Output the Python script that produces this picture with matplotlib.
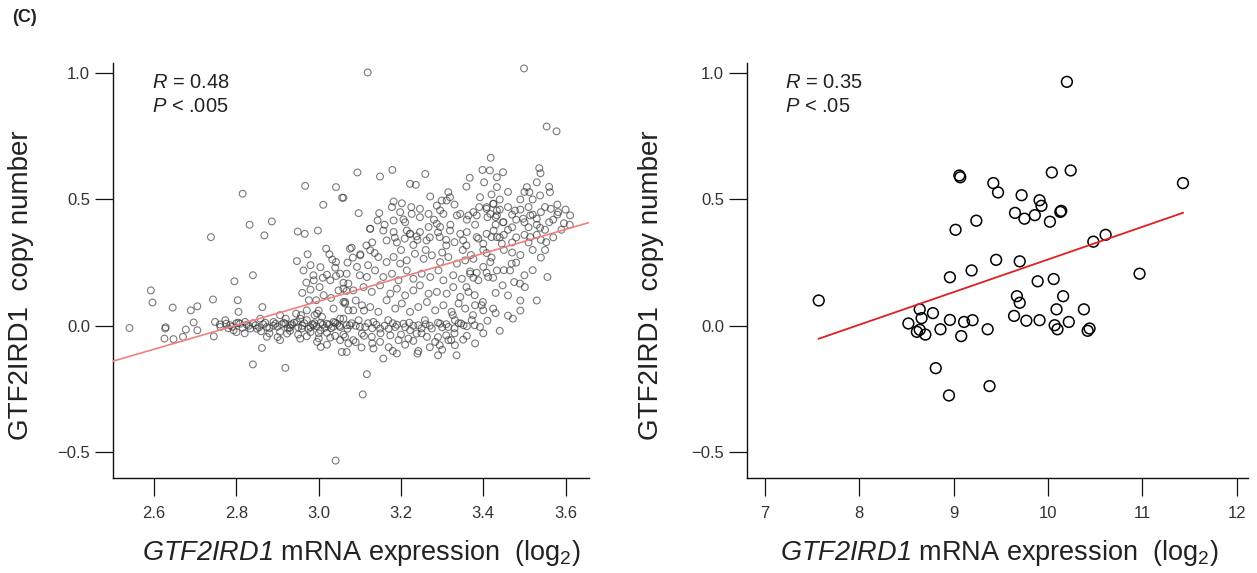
import numpy as np
import matplotlib
matplotlib.use("Agg")
import matplotlib.pyplot as plt

plt.rcParams["font.family"] = ["Liberation Sans", "DejaVu Sans"]
plt.rcParams["mathtext.fontset"] = "custom"
plt.rcParams["mathtext.rm"] = "Liberation Sans"
plt.rcParams["mathtext.it"] = "Liberation Sans:italic"
plt.rcParams["mathtext.sf"] = "Liberation Sans:italic"   # italic gene name incl. digits

# ======================
# DATA
# ======================
# left panel: (mRNA expression log2, copy number)
left_sparse = [
    (2.815, 0.523), (2.832, 0.40), (2.886, 0.413), (2.868, 0.358), (2.738, 0.351),
    (2.967, 0.554), (3.042, 0.549), (3.06, 0.507), (3.011, 0.479), (2.949, 0.373),
    (2.966, 0.364), (2.998, 0.377),
    (3.119, 1.003), (3.499, 1.019), (3.554, 0.789), (3.578, 0.77), (3.418, 0.665),
    (3.094, 0.607), (3.149, 0.591), (3.179, 0.617), (3.259, 0.601), (3.222, 0.562),
    (3.236, 0.558), (3.359, 0.551), (3.367, 0.586), (3.398, 0.617), (3.416, 0.615),
    (3.448, 0.608), (3.433, 0.588), (3.402, 0.568), (3.433, 0.549), (3.536, 0.624),
    (3.539, 0.604), (3.53, 0.568), (3.506, 0.549), (3.512, 0.529), (3.538, 0.516),
    (3.562, 0.529), (3.271, 0.512), (3.315, 0.529), (3.319, 0.509), (3.299, 0.496),
    (3.392, 0.509), (3.057, 0.507), (3.097, 0.446), (3.147, 0.446), (3.143, 0.417),
    (3.125, 0.384),
    (3.477, 0.456), (3.497, 0.424), (3.514, 0.437), (3.53, 0.424), (3.538, 0.388),
    (3.564, 0.463), (3.582, 0.45), (3.611, 0.437), (3.596, 0.406), (3.448, 0.41),
    (3.424, 0.483), (3.408, 0.463), (3.433, 0.456),
    (3.107, -0.272), (3.041, -0.534),
]

left_upper = [
    (3.182, 0.492), (3.202, 0.485), (3.178, 0.47), (3.198, 0.45), (3.225, 0.47),
    (3.246, 0.463), (3.182, 0.417), (3.206, 0.421), (3.226, 0.443), (3.246, 0.43),
    (3.267, 0.443), (3.287, 0.476), (3.295, 0.457), (3.303, 0.443), (3.311, 0.496),
    (3.336, 0.437), (3.344, 0.443), (3.364, 0.437), (3.376, 0.45), (3.384, 0.437),
    (3.408, 0.47), (3.417, 0.443), (3.425, 0.483), (3.433, 0.437), (3.449, 0.41),
    (3.125, 0.384), (3.157, 0.377), (3.182, 0.371), (3.214, 0.377), (3.222, 0.364),
    (3.246, 0.371), (3.267, 0.391), (3.287, 0.404), (3.295, 0.391), (3.319, 0.377),
    (3.344, 0.364), (3.36, 0.371), (3.384, 0.351), (3.408, 0.364), (3.425, 0.377),
    (3.433, 0.351),
    (3.08, 0.309), (3.116, 0.318), (3.136, 0.288), (3.101, 0.283), (3.083, 0.27),
    (3.165, 0.338), (3.185, 0.349), (3.209, 0.345), (3.222, 0.364), (3.238, 0.354),
    (3.262, 0.338), (3.294, 0.351), (3.31, 0.318), (3.33, 0.331), (3.351, 0.338),
    (3.359, 0.318), (3.388, 0.345), (3.4, 0.325), (3.42, 0.351), (3.408, 0.288),
    (3.445, 0.325), (3.469, 0.246), (3.465, 0.219), (3.475, 0.173), (3.489, 0.167),
    (3.501, 0.153), (3.514, 0.351), (3.553, 0.331), (3.556, 0.193), (3.472, 0.028),
    (3.408, 0.21), (3.424, 0.19), (3.433, 0.219), (3.447, 0.16), (3.368, 0.215),
    (3.376, 0.19), (3.384, 0.21), (3.359, 0.153), (3.379, 0.121), (3.399, 0.094),
    (3.424, 0.068), (3.396, 0.081),
    (3.20, 0.30), (3.23, 0.32), (3.26, 0.30), (3.28, 0.42), (3.30, 0.29),
    (3.32, 0.40), (3.33, 0.48), (3.35, 0.30), (3.36, 0.42), (3.37, 0.28),
    (3.38, 0.40), (3.39, 0.47), (3.40, 0.30), (3.41, 0.43), (3.42, 0.27),
    (3.43, 0.40), (3.44, 0.46), (3.45, 0.30), (3.46, 0.38), (3.47, 0.33),
    (3.48, 0.42), (3.49, 0.28), (3.50, 0.36), (3.51, 0.47), (3.52, 0.30),
    (3.53, 0.40), (3.54, 0.45), (3.55, 0.38), (3.57, 0.42), (3.58, 0.48),
    (3.45, 0.22), (3.48, 0.25), (3.50, 0.20), (3.52, 0.22), (3.54, 0.27),
    (3.46, 0.12), (3.49, 0.10), (3.43, 0.13), (3.41, 0.02), (3.43, 0.05),
    (3.44, -0.02), (3.46, 0.04), (3.49, 0.06), (3.53, 0.10),
    (3.13, 0.33), (3.16, 0.40), (3.19, 0.33), (3.21, 0.41), (3.24, 0.34),
    (3.27, 0.35), (3.29, 0.37), (3.31, 0.34),
]

# high-expression cluster at the right edge
left_high = [
    (3.42, 0.52), (3.44, 0.50), (3.46, 0.53), (3.47, 0.44), (3.49, 0.50),
    (3.50, 0.41), (3.51, 0.33), (3.52, 0.50), (3.53, 0.36), (3.55, 0.47),
    (3.56, 0.41), (3.57, 0.35), (3.58, 0.44), (3.59, 0.38), (3.60, 0.46),
    (3.61, 0.40), (3.45, 0.36), (3.47, 0.39), (3.49, 0.46), (3.51, 0.39),
    (3.43, 0.43), (3.46, 0.47), (3.48, 0.35), (3.50, 0.53), (3.52, 0.44),
    (3.54, 0.34), (3.56, 0.55), (3.44, 0.35), (3.47, 0.29), (3.55, 0.30),
]

left_low = [
    (2.947, 0.256), (2.973, 0.283), (3.018, 0.305), (3.026, 0.283), (3.033, 0.262),
    (3.042, 0.252), (3.02, 0.202), (3.042, 0.197), (2.795, 0.176), (2.84, 0.2),
    (2.592, 0.14), (2.596, 0.092), (2.645, 0.072), (2.689, 0.061), (2.705, 0.077),
    (2.743, 0.104), (2.803, 0.101), (2.805, 0.055), (2.863, 0.074), (2.54, -0.009),
    (2.627, -0.011), (2.628, -0.006), (2.625, -0.051), (2.647, -0.053), (2.67, -0.044),
    (2.677, -0.015), (2.696, 0.013), (2.705, -0.018), (2.745, -0.042), (2.862, -0.088),
    (2.84, -0.153), (2.919, -0.167), (3.005, -0.084), (2.97, 0.171), (2.988, 0.18),
    (2.98, 0.143), (3.002, 0.153), (2.976, 0.101), (2.994, 0.101), (3.012, 0.121),
    (3.048, 0.14), (3.068, 0.138), (3.06, 0.094), (3.072, 0.061), (2.945, 0.048),
    (2.957, 0.042), (2.99, 0.042), (2.906, 0.042), (2.92, 0.028),
    (2.748, 0.015), (2.761, -0.005), (2.773, 0.022), (2.785, 0.002), (2.793, -0.018),
    (2.809, 0.008), (2.821, 0.015), (2.834, -0.011), (2.846, 0.002), (2.858, 0.028),
    (2.874, -0.005), (2.890, 0.015), (2.906, -0.024), (2.919, 0.008), (2.931, 0.002),
    (2.947, 0.015), (2.959, -0.011), (2.971, 0.022), (2.987, 0.002), (3.004, -0.018),
    (3.02, 0.008), (3.036, 0.015), (3.052, -0.005), (3.068, 0.002),
    (2.874, -0.044), (2.906, -0.057), (2.923, -0.031), (2.955, -0.051), (2.971, -0.042),
    (2.996, -0.064), (3.028, -0.047), (3.052, -0.057), (3.072, -0.07),
    (2.963, 0.219), (2.987, 0.2), (3.004, 0.232), (3.028, 0.18), (3.052, 0.206),
    (3.072, 0.167), (2.971, 0.061), (2.996, 0.048), (3.036, 0.068), (3.064, 0.088),
    (3.008, 0.035), (3.052, 0.028), (2.955, 0.028),
    (3.351, -0.055), (3.335, -0.117), (3.331, -0.077), (3.294, -0.077), (3.29, -0.117),
    (3.242, -0.1), (3.19, -0.11), (3.157, -0.13), (3.133, -0.09), (3.104, -0.086),
    (3.068, -0.104), (3.056, -0.104), (3.117, -0.192), (3.379, 0.002), (3.346, 0.009),
    (3.375, 0.042), (3.326, 0.042), (3.31, -0.038), (3.322, -0.057),
    (2.96, 0.13), (2.98, 0.24), (3.00, 0.06), (3.01, 0.19), (3.03, 0.11),
    (3.04, 0.23), (3.06, 0.17), (3.07, 0.25), (3.09, 0.10), (3.10, 0.20),
    (3.11, 0.06), (3.12, 0.24),
]

left_core = [
    (3.076, 0.305), (3.101, 0.279), (3.125, 0.299), (3.145, 0.272), (3.165, 0.252),
    (3.182, 0.272), (3.198, 0.246), (3.214, 0.259), (3.234, 0.285), (3.255, 0.265),
    (3.275, 0.279), (3.295, 0.252), (3.315, 0.272), (3.336, 0.246), (3.356, 0.259),
    (3.376, 0.265), (3.4, 0.233), (3.417, 0.252),
    (3.068, 0.206), (3.093, 0.233), (3.117, 0.193), (3.137, 0.219), (3.157, 0.193),
    (3.178, 0.206), (3.194, 0.18), (3.214, 0.219), (3.23, 0.186), (3.25, 0.206),
    (3.271, 0.193), (3.291, 0.219), (3.303, 0.18), (3.327, 0.2), (3.348, 0.186),
    (3.368, 0.206), (3.388, 0.18), (3.412, 0.193),
    (3.06, 0.147), (3.084, 0.14), (3.109, 0.153), (3.129, 0.134), (3.149, 0.16),
    (3.174, 0.127), (3.19, 0.147), (3.21, 0.12), (3.23, 0.14), (3.246, 0.16),
    (3.267, 0.127), (3.287, 0.134), (3.311, 0.127), (3.327, 0.153), (3.344, 0.114),
    (3.364, 0.134),
    (3.064, 0.094), (3.084, 0.061), (3.105, 0.081), (3.125, 0.074), (3.145, 0.055),
    (3.165, 0.101), (3.186, 0.068), (3.202, 0.088), (3.222, 0.055), (3.242, 0.074),
    (3.263, 0.094), (3.283, 0.061), (3.303, 0.081), (3.323, 0.055), (3.34, 0.088),
    (3.356, 0.068), (3.38, 0.081), (3.4, 0.061),
    (3.06, 0.028), (3.076, 0.002), (3.097, 0.022), (3.113, -0.005), (3.133, 0.015),
    (3.149, -0.011), (3.169, 0.022), (3.186, -0.005), (3.206, 0.008), (3.222, -0.018),
    (3.242, 0.002), (3.258, 0.022), (3.275, -0.011), (3.295, 0.008), (3.315, -0.005),
    (3.331, 0.022), (3.352, 0.002), (3.372, 0.022), (3.392, -0.005),
    (3.064, -0.044), (3.084, -0.057), (3.105, -0.031), (3.129, -0.044), (3.149, -0.064),
    (3.174, -0.038), (3.194, -0.057), (3.218, -0.051), (3.238, -0.031), (3.263, -0.044),
    (3.283, -0.064), (3.315, -0.057),
]

# the dense band of copy-neutral lines around 0
left_zero_band = [
    (2.76, 0.005), (2.78, -0.01), (2.80, 0.01), (2.83, 0.0), (2.85, -0.012),
    (2.87, 0.012), (2.89, 0.0), (2.91, 0.006), (2.93, -0.008), (2.94, 0.012),
    (2.96, 0.0), (2.98, -0.006), (2.99, 0.01), (3.01, 0.004), (3.03, -0.01),
    (3.04, 0.012), (3.05, 0.0), (3.07, -0.012), (3.08, 0.01), (3.09, 0.0),
    (3.10, -0.004), (3.12, 0.01), (3.13, -0.01), (3.14, 0.004), (3.16, 0.0),
    (3.17, -0.012), (3.18, 0.01), (3.19, 0.004), (3.21, -0.006), (3.22, 0.012),
    (3.23, 0.0), (3.25, -0.01), (3.26, 0.006), (3.27, 0.0), (3.29, 0.012),
    (3.30, -0.006), (3.31, 0.006), (3.33, -0.01), (3.34, 0.01), (3.36, -0.002),
    (3.00, -0.03), (3.02, -0.075), (3.06, -0.035), (3.09, -0.065), (3.11, -0.04),
    (3.13, -0.07), (3.15, -0.03), (3.17, -0.085), (3.20, -0.035), (3.21, -0.075),
    (3.23, -0.06), (3.25, -0.03), (3.27, -0.085), (3.29, -0.045), (3.30, -0.095),
    (3.33, -0.03), (3.36, -0.04), (3.38, -0.07), (3.40, -0.03), (3.18, -0.10),
    (3.24, -0.11),
    (2.775, 0.008), (2.79, -0.004), (2.805, 0.012), (2.815, -0.008), (2.825, 0.004),
    (2.84, 0.01), (2.855, -0.006), (2.865, 0.006), (2.88, -0.01), (2.895, 0.008),
    (2.90, -0.004), (2.915, 0.012), (2.925, -0.01), (2.935, 0.006), (2.95, -0.006),
    (2.965, 0.01), (2.975, -0.012), (2.985, 0.006), (2.995, -0.002), (3.005, 0.012),
    (3.015, -0.008), (3.025, 0.004), (3.035, -0.004), (3.045, 0.008),
    (2.88, -0.03), (2.90, -0.045), (2.93, -0.02), (2.95, -0.035), (2.98, -0.025),
    (3.00, -0.05), (3.02, -0.028), (3.04, -0.04), (2.86, -0.022), (2.82, -0.03),
    (2.80, -0.025),
]

# right panel: (mRNA expression log2, copy number)
right_points = [
    (7.57, 0.10),
    (9.06, 0.595), (9.07, 0.588), (9.42, 0.565), (9.47, 0.528), (9.72, 0.517),
    (9.91, 0.497), (9.93, 0.475), (10.04, 0.607), (10.24, 0.615), (10.20, 0.966),
    (9.65, 0.447), (9.75, 0.424), (9.86, 0.438), (10.02, 0.412), (10.13, 0.451),
    (10.14, 0.455), (9.02, 0.38), (9.24, 0.416), (9.45, 0.261), (9.70, 0.255),
    (9.19, 0.219), (8.96, 0.192), (9.89, 0.176), (10.06, 0.185),
    (9.67, 0.117), (9.70, 0.091), (10.16, 0.117), (10.09, 0.065), (10.38, 0.065),
    (8.64, 0.065), (8.78, 0.05), (8.66, 0.03), (8.52, 0.009), (8.61, -0.024),
    (8.64, -0.016), (8.70, -0.035), (8.86, -0.014), (8.96, 0.023), (9.11, 0.015),
    (9.20, 0.022), (9.08, -0.041), (9.36, -0.014),
    (9.64, 0.039), (9.77, 0.02), (9.91, 0.022), (10.07, 0.002), (10.10, -0.014),
    (10.22, 0.015), (10.42, -0.02), (10.44, -0.011),
    (10.48, 0.333), (10.61, 0.36), (10.97, 0.206), (11.43, 0.565),
    (8.81, -0.168), (8.95, -0.276), (9.38, -0.239),
]

left_stats = ("0.48", ".005")
right_stats = ("0.35", ".05")

left_xticks = [2.6, 2.8, 3.0, 3.2, 3.4, 3.6]
right_xticks = [7, 8, 9, 10, 11, 12]
yticks = [-0.5, 0.0, 0.5, 1.0]

left_xy = np.array(left_sparse + left_upper + left_high + left_low + left_core
                   + left_zero_band)
right_xy = np.array(right_points)


def style_axis(ax, xlim, xticks):
    ax.set_xlim(*xlim)
    ax.set_ylim(-0.603, 1.04)
    ax.set_xticks(xticks)
    ax.set_xticklabels([f"{t:g}" if t >= 7 else f"{t:.1f}" for t in xticks])
    ax.set_yticks(yticks)
    ax.set_yticklabels([f"{t:.1f}".replace("-", "\u2212") for t in yticks])
    for s in ("top", "right"):
        ax.spines[s].set_visible(False)
    for s in ("left", "bottom"):
        ax.spines[s].set_linewidth(1.0)
        ax.spines[s].set_color("#111111")
    ax.tick_params(axis="both", direction="out", length=13, width=0.9,
                   colors="#111111", labelcolor="#333333", labelsize=12)
    ax.tick_params(axis="x", pad=7)
    ax.tick_params(axis="y", pad=3.5)
    ax.set_ylabel("GTF2IRD1  copy number", fontsize=20, color="#222222")
    ax.yaxis.set_label_coords(-0.166, 0.465)


def add_stats(ax, stats, xpos):
    ax.text(xpos, 0.954, r"$\mathit{R}$ = " + stats[0], transform=ax.transAxes,
            fontsize=14.5, va="center", ha="left", color="#222222")
    ax.text(xpos, 0.896, r"$\mathit{P}$ < " + stats[1], transform=ax.transAxes,
            fontsize=14.5, va="center", ha="left", color="#222222")


xlabel = r"$\mathsf{GTF2IRD1}$ mRNA expression  (log$_2$)"

fig = plt.figure(figsize=(12.57, 5.73), dpi=100)
ax1 = fig.add_axes([0.0899, 0.1658, 0.3787, 0.724])
ax2 = fig.add_axes([0.5943, 0.1658, 0.3986, 0.724])

# ----- left panel -----
style_axis(ax1, (2.50, 3.657), left_xticks)
ax1.scatter(left_xy[:, 0], left_xy[:, 1], s=24, facecolors="none",
            edgecolors="#333333", linewidths=0.8, alpha=0.65, zorder=2)
k1, b1 = np.polyfit(left_xy[:, 0], left_xy[:, 1], 1)
xl = np.array(ax1.get_xlim())
ax1.plot(xl, k1 * xl + b1, color="#f08080", lw=1.2, zorder=3)
add_stats(ax1, left_stats, 0.082)
ax1.text(0.981, -0.181, xlabel, transform=ax1.transAxes, ha="right", va="center",
         fontsize=19.5, color="#222222")

# ----- right panel -----
style_axis(ax2, (6.81, 12.12), right_xticks)
ax2.scatter(right_xy[:, 0], right_xy[:, 1], s=60, facecolors="none",
            edgecolors="black", linewidths=1.1, zorder=2)
k2, b2 = np.polyfit(right_xy[:, 0], right_xy[:, 1], 1)
xr = np.array([right_xy[:, 0].min(), right_xy[:, 0].max()])
ax2.plot(xr, k2 * xr + b2, color="#e02020", lw=1.3, zorder=3)
add_stats(ax2, right_stats, 0.076)
ax2.text(0.940, -0.181, xlabel, transform=ax2.transAxes, ha="right", va="center",
         fontsize=19.5, color="#222222")

fig.text(12 / 1257, 1 - 18 / 573, "(C)", fontsize=13, fontweight="bold",
         ha="left", va="center", color="#222222")

print("n left", len(left_xy), "left fit", k1, b1, "right fit", k2, b2)
plt.savefig("out.png", dpi=100)
